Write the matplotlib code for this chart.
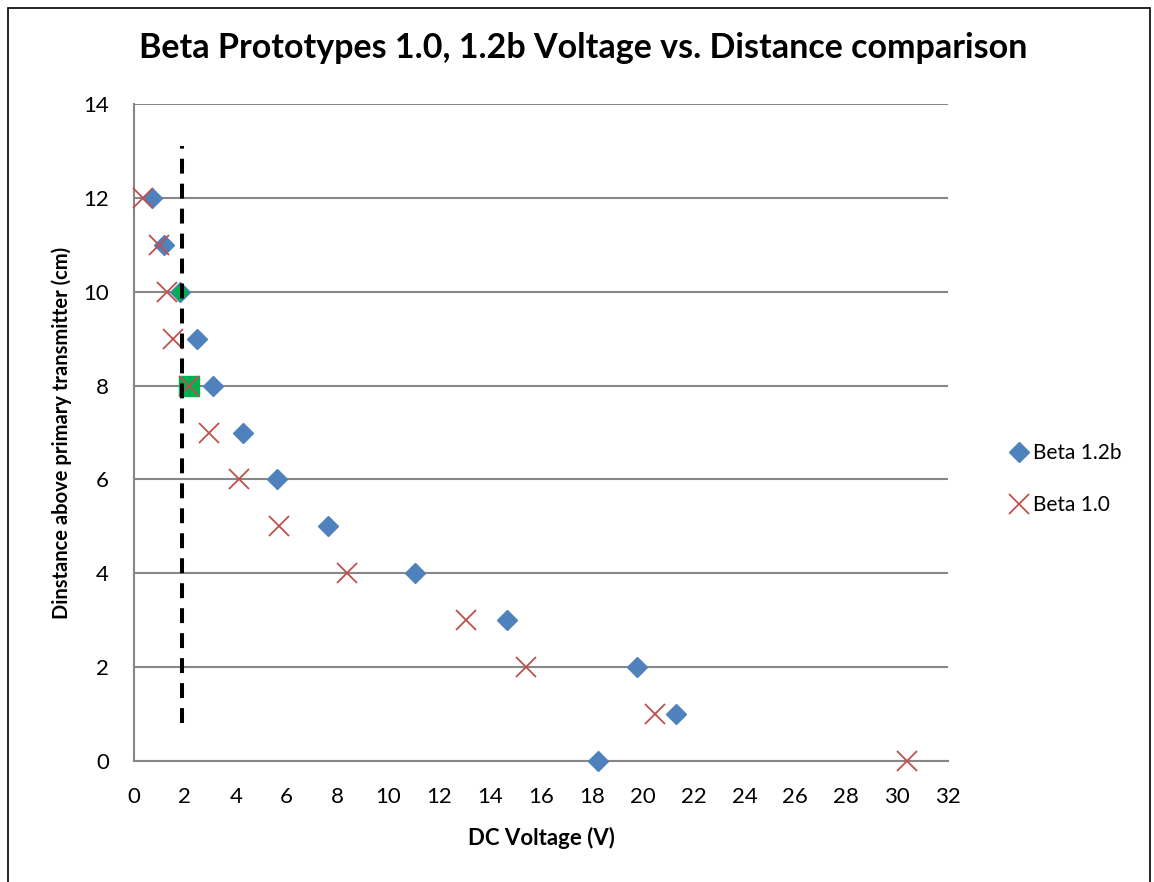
import matplotlib.pyplot as plt
from matplotlib.patches import Rectangle

# Beta 1.2b measurements
beta12_v = [0.70, 1.19, 1.82, 2.49, 3.09, 4.30, 5.61, 7.61, 11.05, 14.66, 19.78, 21.29, 18.25]
beta12_d = [12, 11, 10, 9, 8, 7, 6, 5, 4, 3, 2, 1, 0]

# Beta 1.0 measurements
beta10_v = [0.34, 0.98, 1.28, 1.55, 2.18, 2.95, 4.14, 5.71, 8.36, 13.05, 15.41, 20.49, 30.40]
beta10_d = [12, 11, 10, 9, 8, 7, 6, 5, 4, 3, 2, 1, 0]

# highlighted points
hl_diamond = (1.80, 10)
hl_square = (2.18, 8)

# threshold line
thresh_v = 1.88
thresh_range = (0.8, 13.1)

xticks = list(range(0, 33, 2))
yticks = list(range(0, 15, 2))

BLUE = '#4F81BD'
RED = '#C0504D'
GREEN = '#00B050'
GRID = '#878787'

plt.rcParams['font.family'] = ['Lato', 'DejaVu Sans']

fig = plt.figure(figsize=(11.54, 8.82), dpi=100)
fig.patches.append(Rectangle((8 / 1154, -0.05), 1142 / 1154, 1.05 - 8 / 882,
                             transform=fig.transFigure, fill=False,
                             edgecolor='black', linewidth=1.2))

ax = fig.add_axes([134 / 1154, 1 - 761 / 882, (948 - 134) / 1154, (761 - 104) / 882])

ax.scatter(hl_square[0], hl_square[1], marker='s', s=19 ** 2 * 0.52, color=GREEN,
           zorder=2, clip_on=False)
ax.plot(beta12_v, beta12_d, linestyle='none', marker='D', markersize=10.2,
        color=BLUE, label='Beta 1.2b', zorder=3, clip_on=False)
ax.plot(hl_diamond[0], hl_diamond[1], linestyle='none', marker='D', markersize=8.5,
        color=GREEN, zorder=4, clip_on=False)
ax.plot(beta10_v, beta10_d, linestyle='none', marker='x', markersize=14,
        markeredgewidth=1.3, color=RED, label='Beta 1.0', zorder=5, clip_on=False)
ax.plot([thresh_v, thresh_v], thresh_range, color='black', linewidth=2.9,
        dashes=(3.7, 2.5), zorder=6)

ax.set_xlim(0, 32)
ax.set_ylim(0, 14)
ax.set_xticks(xticks)
ax.set_yticks(yticks)
ax.tick_params(length=0, labelsize=16)
ax.tick_params(axis='x', pad=19)
ax.tick_params(axis='y', pad=18)
ax.yaxis.grid(True, color=GRID, linewidth=1.5)
ax.set_axisbelow(True)
for side in ('top', 'right'):
    ax.spines[side].set_visible(False)
for side in ('left', 'bottom'):
    ax.spines[side].set_color(GRID)
    ax.spines[side].set_linewidth(1.5)

ax.set_xlabel('DC Voltage (V)', fontsize=16, fontweight='bold', labelpad=14)
ax.set_ylabel('Dinstance above primary transmitter (cm)', fontsize=14.5,
              fontweight='bold', labelpad=8)
fig.text(583 / 1154, 1 - 48 / 882, 'Beta Prototypes 1.0, 1.2b Voltage vs. Distance comparison',
         ha='center', va='center', fontsize=24.5, fontweight='bold')

ax.legend(loc='center left', bbox_to_anchor=(1.0, 0.429), frameon=False,
          fontsize=15, handletextpad=0.1, labelspacing=1.55, borderaxespad=2.4,
          handlelength=1.2)

fig.savefig('out.png', dpi=100)
